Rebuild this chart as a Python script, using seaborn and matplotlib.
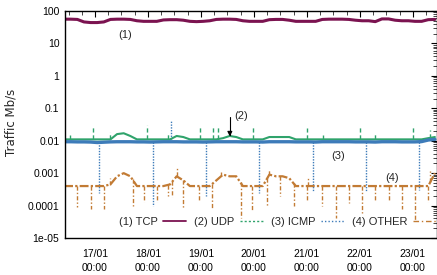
import numpy as np
import pandas as pd
import matplotlib
matplotlib.use("Agg")
import matplotlib.pyplot as plt
import matplotlib.dates as mdates
from matplotlib.lines import Line2D
import seaborn as sns

# ---------------- data ----------------
start = pd.Timestamp("2011-01-16 10:00")
base_hours = list(range(0, 169, 3))  # sampling every 3 hours

tcp = [56, 56, 55, 46, 44, 44, 46, 55, 56, 56, 55, 50, 48, 48, 48, 53, 54, 54, 52,
       48, 47, 48, 50, 55, 56, 56, 55, 50, 48, 48, 48, 54, 55, 55, 52, 48, 48, 48,
       48, 55, 56, 56, 56, 55, 52, 50, 50, 47, 57, 57, 52, 50, 50, 48, 48, 54, 55]

udp = [0.011, 0.011, 0.011, 0.011, 0.011, 0.011, 0.011, 0.011, 0.016, 0.017, 0.014,
       0.011, 0.011, 0.011, 0.011, 0.011, 0.011, 0.014, 0.013, 0.011, 0.011, 0.011,
       0.011, 0.011, 0.012, 0.014, 0.013, 0.011, 0.011, 0.011, 0.011, 0.013, 0.013,
       0.013, 0.013, 0.011, 0.011, 0.011, 0.011, 0.011, 0.011, 0.011, 0.011, 0.011,
       0.011, 0.011, 0.011, 0.011, 0.011, 0.011, 0.011, 0.011, 0.011, 0.011, 0.011,
       0.012, 0.013]

icmp = [0.0093, 0.0093, 0.0092, 0.0092, 0.0091, 0.0088, 0.0090, 0.0092, 0.0093,
        0.0093, 0.0093, 0.0092, 0.0092, 0.0091, 0.0092, 0.0093, 0.0093, 0.0093,
        0.0092, 0.0092, 0.0092, 0.0091, 0.0092, 0.0093, 0.0093, 0.0093, 0.0093,
        0.0092, 0.0092, 0.0092, 0.0091, 0.0093, 0.0093, 0.0093, 0.0093, 0.0092,
        0.0092, 0.0092, 0.0091, 0.0093, 0.0093, 0.0093, 0.0093, 0.0093, 0.0092,
        0.0092, 0.0092, 0.0091, 0.0093, 0.0093, 0.0093, 0.0092, 0.0092, 0.0092,
        0.0094, 0.0105, 0.0110]

other = [0.0004, 0.0004, 0.0004, 0.0004, 0.0004, 0.0004, 0.0004, 0.00045, 0.0008,
         0.0010, 0.0008, 0.0004, 0.0004, 0.0004, 0.0004, 0.0004, 0.00045, 0.0008,
         0.0006, 0.0004, 0.0004, 0.0004, 0.0004, 0.0006, 0.0009, 0.0008, 0.0008,
         0.0004, 0.0004, 0.0004, 0.0004, 0.0009, 0.0008, 0.0008, 0.0007, 0.0004,
         0.0004, 0.0004, 0.0004, 0.0004, 0.0004, 0.0004, 0.0004, 0.0004, 0.0004,
         0.0004, 0.0004, 0.0004, 0.0004, 0.0004, 0.0004, 0.0004, 0.0004, 0.0004,
         0.0004, 0.0004, 0.0010]

# short spikes (hour offset, value)
udp_spike_h = [2.7, 13.1, 20.8, 37.5, 47.1, 61.5, 67.4, 69.7, 85.5, 110, 117.2, 134,
               140.8, 158, 165.7]
udp_spike_v = [0.015, 0.026, 0.018, 0.030, 0.016, 0.028, 0.028, 0.027, 0.028, 0.025,
               0.015, 0.027, 0.016, 0.028, 0.022]

icmp_spike_h = [15.8, 40.3, 48.4, 64.1, 88.3, 112.6, 136.7, 161.0]
icmp_spike_v = [0.00025, 0.0001, 0.045, 0.0002, 0.00025, 0.00028, 0.00026, 0.0003]

other_spike_h = [6, 12, 18, 20.8, 31, 36, 42, 47, 49, 51.1, 54, 61, 67, 71, 80, 85,
                 92, 92.8, 98, 104, 110, 110.4, 117, 123, 129, 135, 141, 147, 153,
                 159, 165, 165.7]
other_spike_v = [0.00009, 0.00008, 0.00008, 0.0007, 0.0001, 0.00013, 0.00013,
                 0.0002, 0.00018, 0.0016, 0.00008, 0.00015, 0.00008, 0.0011,
                 0.00004, 0.00007, 0.0001, 0.0013, 0.0002, 0.0001, 0.00014, 0.0007,
                 0.0001, 0.00004, 0.00012, 0.00006, 0.00014, 0.00015, 0.00008,
                 0.000035, 0.00013, 0.0012]

series_names = ["TCP", "UDP", "ICMP", "OTHER"]
legend_labels = ["(1) TCP", "(2) UDP", "(3) ICMP", "(4) OTHER"]
colors = {"TCP": "#7b1350", "UDP": "#2fa36b", "ICMP": "#3d7bb9", "OTHER": "#c27b34"}

# ---------------- figure ----------------
sns.set_style("white")
plt.rcParams["font.family"] = ["Liberation Sans", "DejaVu Sans"]
plt.rcParams["font.size"] = 7.5

fig = plt.figure(figsize=(4.37, 2.75), dpi=100)
ax = fig.add_axes([0.1487, 0.1345, 0.851, 0.8255])

times = [start + pd.Timedelta(hours=h) for h in base_hours]
df = pd.DataFrame({
    "time": times * 4,
    "value": tcp + udp + icmp + other,
    "proto": sum([[n] * len(times) for n in series_names], []),
})

def hrs(lst):
    return [start + pd.Timedelta(hours=h) for h in lst]

def base_at(arr, hlist):
    return list(np.interp(hlist, base_hours, arr))

# spikes first (behind)
ax.vlines(hrs(other_spike_h), base_at(other, other_spike_h), other_spike_v,
          colors=colors["OTHER"], linestyles=(0, (3, 1.5, 1, 1.5)), lw=1.0)
ax.vlines(hrs(icmp_spike_h), base_at(icmp, icmp_spike_h), icmp_spike_v,
          colors=colors["ICMP"], linestyles=(0, (1, 1)), lw=1.0)
ax.vlines(hrs(udp_spike_h), base_at(udp, udp_spike_h), udp_spike_v,
          colors=colors["UDP"], linestyles=(0, (3, 2)), lw=1.0)

widths = {"TCP": 2.2, "UDP": 1.5, "ICMP": 2.4, "OTHER": 1.6}
styles = {"TCP": "-", "UDP": "-", "ICMP": "-", "OTHER": (0, (4, 1, 1, 1))}
for n in ["OTHER", "UDP", "ICMP", "TCP"]:
    sub = df[df["proto"] == n]
    sns.lineplot(data=sub, x="time", y="value", ax=ax, color=colors[n],
                 lw=widths[n], linestyle=styles[n], legend=False, estimator=None)

ax.set_yscale("log")
ax.set_ylim(1e-5, 100)
ax.set_xlim(start + pd.Timedelta(minutes=24), start + pd.Timedelta(hours=168, minutes=54))
ax.set_yticks([1e-5, 1e-4, 1e-3, 1e-2, 1e-1, 1, 10, 100])
ax.set_yticklabels(["1e-05", "0.0001", "0.001", "0.01", "0.1", "1", "10", "100"])
ax.yaxis.set_minor_locator(matplotlib.ticker.LogLocator(base=10, subs=np.arange(2, 10)))
ax.yaxis.set_minor_formatter(matplotlib.ticker.NullFormatter())

ax.xaxis.set_major_locator(mdates.DayLocator())
ax.xaxis.set_minor_locator(mdates.HourLocator(byhour=[6, 12, 18]))
ax.xaxis.set_major_formatter(mdates.DateFormatter("%d/%m\n%H:%M"))

ax.tick_params(which="major", direction="in", length=4.5, width=0.8, top=True,
               right=True, labelsize=7.5, pad=4, colors="black")
ax.tick_params(which="minor", direction="in", length=3, width=0.6, top=True,
               right=True)
ax.tick_params(axis="x", which="major", pad=8)
for lbl in ax.get_xticklabels():
    lbl.set_linespacing(1.45)
for s in ax.spines.values():
    s.set_color("black")
    s.set_linewidth(1.0)

ax.set_xlabel("")
ax.set_ylabel("Traffic Mb/s", fontsize=8.5, family="DejaVu Sans")
ax.yaxis.set_label_coords(-0.128, 0.509)

# annotations
ax.text(start + pd.Timedelta(hours=27.6), 18, "(1)", ha="center", va="center", fontsize=8)
ax.annotate("(2)", xy=(start + pd.Timedelta(hours=75.1), 0.0135),
            xytext=(start + pd.Timedelta(hours=77.0), 0.056), ha="left", va="center",
            fontsize=8,
            arrowprops=dict(arrowstyle="-|>", color="black", lw=0.8,
                            shrinkA=1, shrinkB=0, mutation_scale=7,
                            connectionstyle="angle,angleA=180,angleB=90,rad=0"))
ax.text(start + pd.Timedelta(hours=124.0), 0.0035, "(3)", ha="center", va="center", fontsize=8)
ax.text(start + pd.Timedelta(hours=148.5), 0.00073, "(4)", ha="center", va="center", fontsize=8)

handles = [
    Line2D([], [], color=colors["TCP"], lw=1.3, ls="-"),
    Line2D([], [], color=colors["UDP"], lw=1.0, ls=(0, (1.5, 1.5))),
    Line2D([], [], color=colors["ICMP"], lw=1.0, ls=(0, (1, 1.5))),
    Line2D([], [], color=colors["OTHER"], lw=1.0, ls=(0, (4, 2, 1, 2))),
]
ax.legend(handles, legend_labels, loc="center", bbox_to_anchor=(0.572, 0.07),
          ncol=4, frameon=False, markerfirst=False, handlelength=2.1,
          columnspacing=0.7, handletextpad=0.5, fontsize=8)

fig.savefig("out.png", dpi=100)
